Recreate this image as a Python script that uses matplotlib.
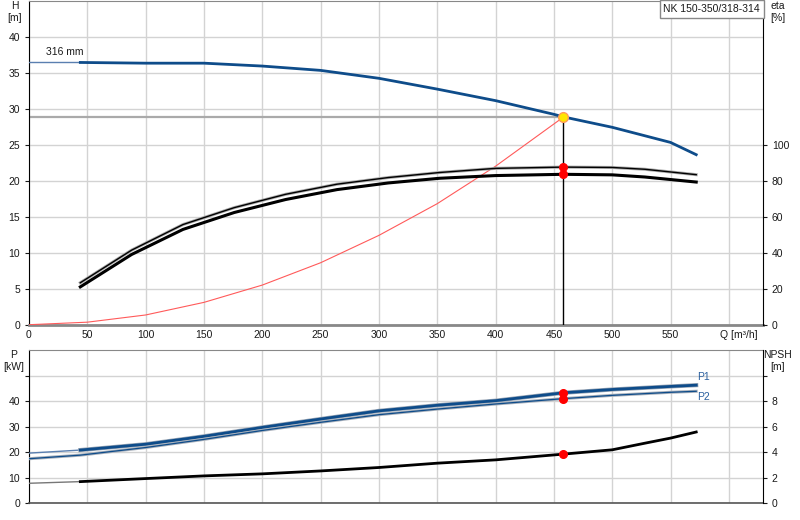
import numpy as np
import matplotlib.pyplot as plt

# data
q_h = [0, 44, 100, 150, 200, 250, 300, 350, 400, 450, 458, 500, 550, 572]
h_316 = [36.4, 36.4, 36.3, 36.3, 35.9, 35.3, 34.2, 32.7, 31.1, 29.2, 28.85, 27.4, 25.3, 23.6]

q_sys = [0, 50, 100, 150, 200, 250, 300, 350, 400, 458]
h_sys = [0, 0.35, 1.35, 3.1, 5.5, 8.6, 12.4, 16.8, 22.0, 28.8]

q_eta = [44, 88, 132, 176, 220, 264, 308, 352, 400, 458, 500, 528, 572]
eta_pump = [23.3, 41.4, 55.6, 65.0, 72.4, 78.0, 81.7, 84.5, 86.8, 87.5, 87.3, 86.3, 83.3]
eta_tot = [21.0, 39.0, 52.9, 62.3, 69.5, 75.0, 78.7, 81.3, 82.8, 83.5, 83.2, 82.0, 79.2]

q_p = [0, 44, 100, 150, 200, 250, 300, 350, 400, 458, 500, 550, 572]
p1 = [19.6, 20.8, 23.1, 26.2, 29.7, 33.0, 36.2, 38.4, 40.2, 43.3, 44.6, 45.8, 46.3]
p2 = [17.4, 18.8, 21.8, 25.0, 28.5, 31.7, 34.7, 36.9, 38.9, 41.0, 42.3, 43.5, 43.9]

q_npsh = [0, 44, 100, 150, 200, 250, 300, 350, 400, 458, 500, 528, 550, 572]
npsh = [1.55, 1.68, 1.92, 2.13, 2.29, 2.52, 2.79, 3.13, 3.39, 3.84, 4.18, 4.7, 5.1, 5.58]

q_duty = 458
h_duty = 28.8

blue = '#0e4c8a'
grid_c = '#d3d3d3'
txt = '#1a1a1a'
fs = 7.5

plt.rcParams['font.family'] = ['Liberation Sans', 'DejaVu Sans']

fig = plt.figure(figsize=(8, 5.2), dpi=100)
ax = fig.add_axes([29/800, 1 - 324.7/520, (762.7 - 29)/800, 324.2/520])
ax2 = ax.twinx()
axb = fig.add_axes([29/800, 1 - 503/520, (762.7 - 29)/800, 152.7/520])
axb2 = axb.twinx()

xmax = 629
for a in (ax, axb):
    a.set_xlim(0, xmax)
    a.set_xticks(np.arange(0, 601, 50))
    a.grid(True, color=grid_c, lw=1)
    a.set_axisbelow(True)
    a.spines['left'].set_color('black')
    a.spines['right'].set_visible(False)
    a.spines['top'].set_color('#888888')
    a.tick_params(labelsize=fs, colors=txt, length=3, width=0.8)
    a.tick_params(axis='x', length=0, pad=4)
ax.spines['bottom'].set_color('#888888')
ax.spines['bottom'].set_linewidth(2)
axb.spines['bottom'].set_color('#555555')
axb.spines['bottom'].set_linewidth(1.2)
for a in (ax2, axb2):
    a.spines['right'].set_color('black')
    a.spines['left'].set_visible(False)
    a.spines['top'].set_visible(False)
    a.spines['bottom'].set_visible(False)
    a.tick_params(labelsize=fs, colors=txt, length=3, width=0.8)

# top panel
ax.set_ylim(0, 45)
ax.set_yticks(np.arange(0, 41, 5))
ax.set_xticklabels([str(v) if v < 600 else '' for v in range(0, 601, 50)])
ax2.set_ylim(0, 180)
ax2.set_yticks(np.arange(0, 101, 20))

ax.plot([0, q_duty], [h_duty, h_duty], color='#aaaaaa', lw=1.6, zorder=2)
ax.plot([q_duty, q_duty], [0, h_duty], color='black', lw=1, zorder=3)
ax.plot(q_sys, h_sys, color='#ff5a5a', lw=0.8, zorder=3)
ax.plot(q_h[:2], h_316[:2], color='#5a7fb0', lw=1, zorder=4)
ax.plot(q_h[1:], h_316[1:], color=blue, lw=2, zorder=4)
ax.text(15, 37.8, '316 mm', fontsize=fs, color=txt, va='center')

ax2.plot(q_eta, eta_pump, color='#aaaaaa', lw=2.2, zorder=3)
ax2.plot(q_eta, eta_pump, color='black', lw=1.0, zorder=3)
ax2.plot(q_eta, eta_tot, color='black', lw=2.2, zorder=3)
ax2.plot([q_duty], [eta_pump[q_eta.index(q_duty)]], 'o', color='red', ms=5.5, zorder=5)
ax2.plot([q_duty], [eta_tot[q_eta.index(q_duty)]], 'o', color='red', ms=5.5, zorder=5)
ax.plot([q_duty], [h_duty], 'o', mfc='#ffe600', mec='#ff9a5a', mew=1, ms=7, zorder=6)

# bottom panel
axb.set_ylim(0, 60)
axb.set_yticks(np.arange(0, 51, 10))
axb.set_yticklabels(['0', '10', '20', '30', '40', ''])
axb.set_xticklabels([])
axb2.set_ylim(0, 12)
axb2.set_yticks(np.arange(0, 11, 2))
axb2.set_yticklabels(['0', '2', '4', '6', '8', ''])

axb.plot(q_p[:2], p1[:2], color='#5a7fb0', lw=1, zorder=3)
axb.plot(q_p[1:], p1[1:], color='#9aa6b5', lw=3.0, zorder=3)
axb.plot(q_p[1:], p1[1:], color=blue, lw=2, zorder=3)
axb.plot(q_p, p2, color='#a8b0bb', lw=2.2, zorder=3)
axb.plot(q_p, p2, color=blue, lw=0.9, zorder=3)
axb2.plot(q_npsh[:2], npsh[:2], color='#777777', lw=1, zorder=3)
axb2.plot(q_npsh[1:], npsh[1:], color='black', lw=2, zorder=3)
axb.plot([q_duty], [p1[q_p.index(q_duty)]], 'o', color='red', ms=5.5, zorder=5)
axb.plot([q_duty], [p2[q_p.index(q_duty)]], 'o', color='red', ms=5.5, zorder=5)
axb2.plot([q_duty], [npsh[q_npsh.index(q_duty)]], 'o', color='red', ms=5.5, zorder=5)
axb.text(573, 49.4, 'P1', fontsize=fs, color='#2a5f9e', va='center')
axb.text(573, 41.6, 'P2', fontsize=fs, color='#2a5f9e', va='center')

# axis captions
fig.text(15/800, 1 - 6/520, 'H', fontsize=fs, color=txt, ha='center', va='center')
fig.text(15/800, 1 - 18/520, '[m]', fontsize=fs, color=txt, ha='center', va='center')
fig.text(778/800, 1 - 6/520, 'eta', fontsize=fs, color=txt, ha='center', va='center')
fig.text(778/800, 1 - 18/520, '[%]', fontsize=fs, color=txt, ha='center', va='center')
fig.text(739/800, 1 - 335/520, 'Q [m³/h]', fontsize=fs, color=txt, ha='center', va='center')
fig.text(14/800, 1 - 355/520, 'P', fontsize=fs, color=txt, ha='center', va='center')
fig.text(14/800, 1 - 367/520, '[kW]', fontsize=fs, color=txt, ha='center', va='center')
fig.text(778/800, 1 - 355/520, 'NPSH', fontsize=fs, color=txt, ha='center', va='center')
fig.text(778/800, 1 - 367/520, '[m]', fontsize=fs, color=txt, ha='center', va='center')

fig.text(760/800, 1 - 9/520, 'NK 150-350/318-314', fontsize=fs, color=txt,
         ha='right', va='center',
         bbox=dict(boxstyle='square,pad=0.35', fc='white', ec='#888888', lw=1))

fig.savefig('out.png', dpi=100)
